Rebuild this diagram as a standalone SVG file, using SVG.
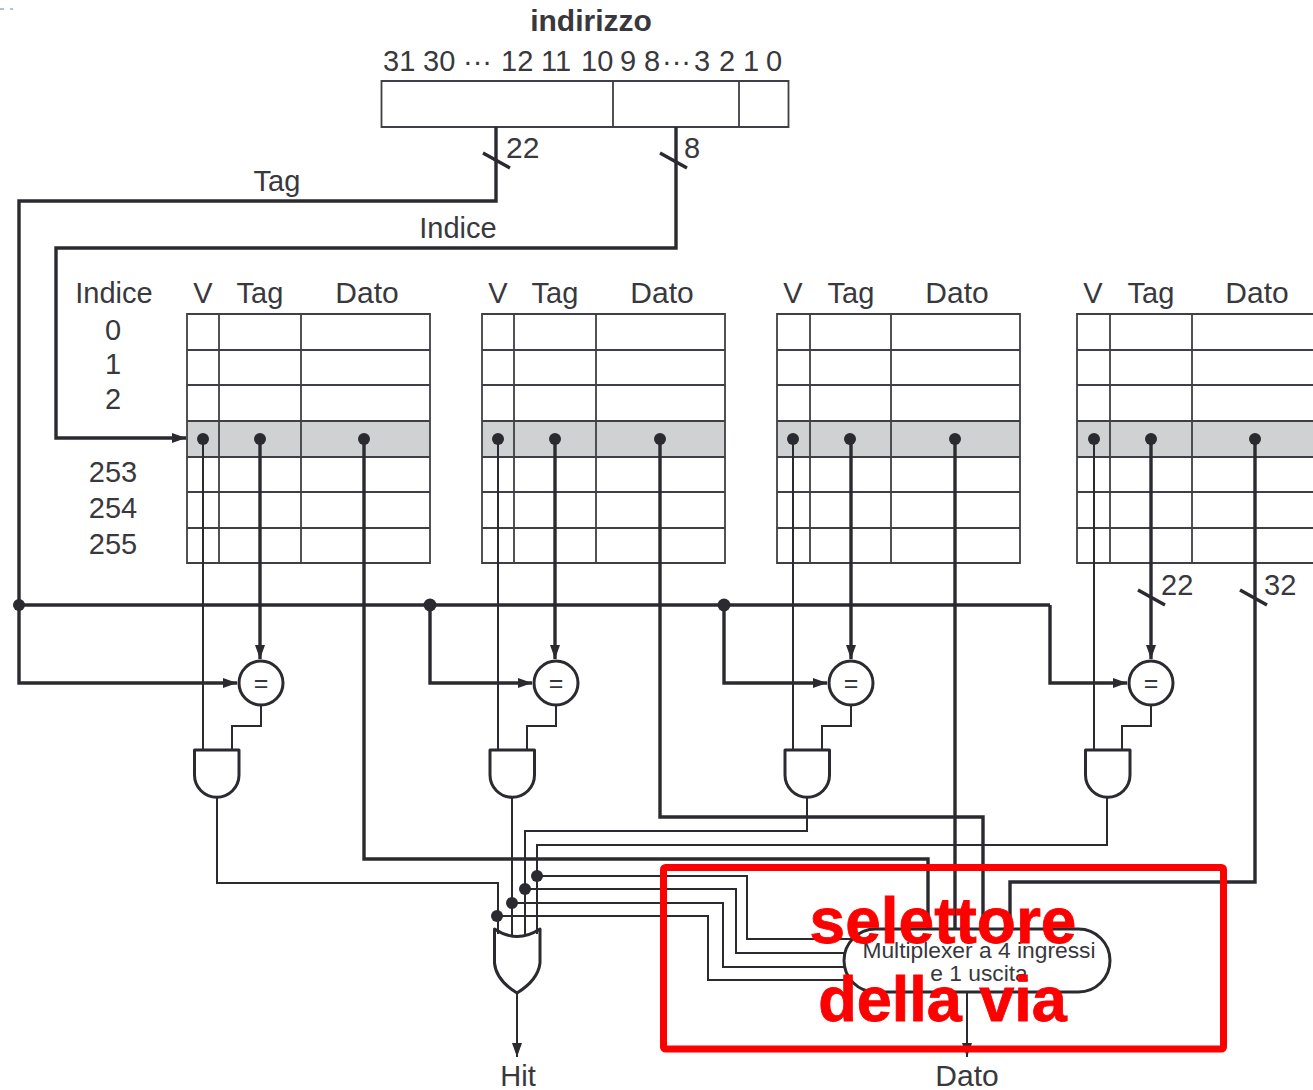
<svg xmlns="http://www.w3.org/2000/svg" width="1313" height="1090" viewBox="0 0 1313 1090">
<style>
text{font-family:"Liberation Sans",Arial,sans-serif;font-size:29px;fill:#38383d;text-anchor:middle}
.s{text-anchor:start}
.dato{font-size:30px}
.gate{fill:#fff;stroke:#2a2a30;stroke-width:3;stroke-linejoin:round}
.grid{fill:none;stroke:#3f3f45;stroke-width:1.800}
.band{fill:#d0d1d3}
.w{fill:none;stroke:#2a2a30;stroke-width:2;stroke-linejoin:miter}
.t{fill:none;stroke:#2a2a30;stroke-width:3.400;stroke-linejoin:miter}
.ah{marker-end:url(#arr)}
.d{fill:#2a2a30}
.red{font-family:"Liberation Sans",Arial,sans-serif;font-weight:700;font-size:64px;fill:#ff0000;stroke:#ff0000;stroke-width:.8}
</style>
<defs>
<marker id="arr" markerUnits="userSpaceOnUse" markerWidth="15" markerHeight="10" refX="14" refY="5" orient="auto"><path d="M0 0L14 5L0 10Z" fill="#2a2a30"/></marker>
<path id="rows" d="M0 314H243V563H0ZM0 350H243M0 385H243M0 421H243M0 457H243M0 492H243M0 528H243"/>
</defs>
<g id="corner-marks"><rect x="0" y="8" width="4" height="2" fill="#a9c4dc"/><rect x="10" y="8" width="3" height="2" fill="#a9c4dc"/></g>
<g id="address">
<text x="591" y="31" style="font-weight:700;font-size:30px">indirizzo</text>
<text class="s" y="71"><tspan x="383">31</tspan><tspan x="423">30</tspan><tspan x="463">···</tspan><tspan x="501">12</tspan><tspan x="541">11</tspan><tspan x="581">10</tspan><tspan x="620">9</tspan><tspan x="644">8</tspan><tspan x="662">···</tspan><tspan x="694">3</tspan><tspan x="719">2</tspan><tspan x="743">1</tspan><tspan x="766">0</tspan></text>
<path class="grid" d="M381.500 81H788.500V127H381.500ZM613 81V127M739 81V127"/>
</g>
<g id="index-labels">
<text x="114" y="303">Indice</text><text x="113" y="340">0</text><text x="113" y="374">1</text><text x="113" y="409">2</text><text x="113" y="482">253</text><text x="113" y="518">254</text><text x="113" y="554">255</text>
</g>
<g id="way1">
<rect class="band" x="187" y="421" width="243" height="36"/>
<use href="#rows" x="187" class="grid"/><path class="grid" d="M219 314V563M301 314V563"/>
<text x="203" y="303">V</text><text x="260" y="303">Tag</text><text class="dato" x="367" y="303">Dato</text>
</g>
<g id="way2">
<rect class="band" x="482" y="421" width="243" height="36"/>
<use href="#rows" x="482" class="grid"/><path class="grid" d="M514 314V563M596 314V563"/>
<text x="498" y="303">V</text><text x="555" y="303">Tag</text><text class="dato" x="662" y="303">Dato</text>
</g>
<g id="way3">
<rect class="band" x="777" y="421" width="243" height="36"/>
<use href="#rows" x="777" class="grid"/><path class="grid" d="M810 314V563M891 314V563"/>
<text x="793" y="303">V</text><text x="851" y="303">Tag</text><text class="dato" x="957" y="303">Dato</text>
</g>
<g id="way4">
<rect class="band" x="1077" y="421" width="243" height="36"/>
<use href="#rows" x="1077" class="grid"/><path class="grid" d="M1110 314V563M1192 314V563"/>
<text x="1093" y="303">V</text><text x="1151" y="303">Tag</text><text class="dato" x="1257" y="303">Dato</text>
</g>
<g id="connectors">
<path class="t ah" d="M496 127V201H19V683H237"/>
<path class="t ah" d="M676 127V248H56V438H186"/>
<path class="t" d="M483 153L510 168M660 153L687 168M1138 590L1165 605M1240 590L1267 605"/>
<path class="t" d="M19 605H1050"/>
<path class="t ah" d="M430 605V683H532"/>
<path class="t ah" d="M724 605V683H827"/>
<path class="t ah" d="M1050 605V683H1127"/>
<path class="t ah" d="M260 439V659"/><path class="t ah" d="M555 439V659"/><path class="t ah" d="M851 439V659"/><path class="t ah" d="M1151 439V659"/>
<path class="w" d="M203 439V750M498 439V750M793 439V750M1094 439V750"/>
<path class="w" d="M261 705V726H232V750M556 705V726H527V750M851 705V726H822V750M1151 705V726H1122V750"/>
<path class="t" d="M364 439V859H928V932"/>
<path class="t" d="M660 439V817H983V932"/>
<path class="t" d="M955 439V932"/>
<path class="t" d="M1255 439V882H1010V932"/>
<path class="w" d="M217 797V883H498V934"/>
<path class="w" d="M512 797V936"/>
<path class="w" d="M807 797V831H525V936"/>
<path class="w" d="M1107 797V845H537V934"/>
<path class="w" d="M498 916H708V980H848"/>
<path class="w" d="M512 903H723V967H846"/>
<path class="w" d="M525 889H736V953H846"/>
<path class="w" d="M537 876H747V939H852"/>
<path class="w ah" d="M517 993V1057"/>
<path class="w ah" d="M967 992V1057"/>
<circle class="d" cx="19" cy="605" r="6"/><circle class="d" cx="430" cy="605" r="6.500"/><circle class="d" cx="724" cy="605" r="6.500"/>
<circle class="d" cx="497" cy="916" r="6"/><circle class="d" cx="512" cy="903" r="6"/><circle class="d" cx="525" cy="889" r="6"/><circle class="d" cx="537" cy="876" r="6"/>
<g class="d"><circle cx="203" cy="439" r="6"/><circle cx="260" cy="439" r="6"/><circle cx="364" cy="439" r="6"/><circle cx="498" cy="439" r="6"/><circle cx="555" cy="439" r="6"/><circle cx="660" cy="439" r="6"/><circle cx="793" cy="439" r="6"/><circle cx="850" cy="439" r="6"/><circle cx="955" cy="439" r="6"/><circle cx="1094" cy="439" r="6"/><circle cx="1151" cy="439" r="6"/><circle cx="1255" cy="439" r="6"/></g>
</g>
<g id="edge-labels">
<text x="277" y="191">Tag</text><text x="458" y="238">Indice</text>
<text class="s" x="506" y="158" style="font-size:30px">22</text><text class="s" x="684" y="158">8</text><text class="s" x="1161" y="595">22</text><text class="s" x="1264" y="595">32</text>
</g>
<g id="cmp1"><circle class="gate" cx="261" cy="683" r="22"/><text x="261" y="692" style="font-size:25px">=</text></g>
<g id="cmp2"><circle class="gate" cx="556" cy="683" r="22"/><text x="556" y="692" style="font-size:25px">=</text></g>
<g id="cmp3"><circle class="gate" cx="851" cy="683" r="22"/><text x="851" y="692" style="font-size:25px">=</text></g>
<g id="cmp4"><circle class="gate" cx="1151" cy="683" r="22"/><text x="1151" y="692" style="font-size:25px">=</text></g>
<g id="and1"><path class="gate" d="M194.500 750H239V775A22.250 22.250 0 0 1 194.500 775Z"/></g>
<g id="and2"><path class="gate" d="M490 750H534.500V775A22.250 22.250 0 0 1 490 775Z"/></g>
<g id="and3"><path class="gate" d="M785 750H829.500V775A22.250 22.250 0 0 1 785 775Z"/></g>
<g id="and4"><path class="gate" d="M1085.500 750H1130V775A22.250 22.250 0 0 1 1085.500 775Z"/></g>
<g id="or"><path class="gate" style="fill:none" d="M494.500 929Q517 944 540 929V963Q538 980 517 993Q496 980 494.500 963Z"/></g>
<g id="mux"><rect class="gate" x="844" y="929" width="266" height="63" rx="31.500"/>
<text x="979" y="958" style="font-size:22.800px">Multiplexer a 4 ingressi</text><text x="979" y="981" style="font-size:22.800px">e 1 uscita</text></g>
<g id="outputs"><text x="518" y="1086">Hit</text><text x="967" y="1086" class="dato">Dato</text></g>
<g id="selector">
<rect x="663.500" y="867.500" width="560" height="181.500" rx="2" fill="none" stroke="#ff0000" stroke-width="7"/>
<text class="red" x="943" y="943">selettore</text>
<text class="red" x="942.500" y="1021" style="font-size:63px">della via</text>
</g>
</svg>
